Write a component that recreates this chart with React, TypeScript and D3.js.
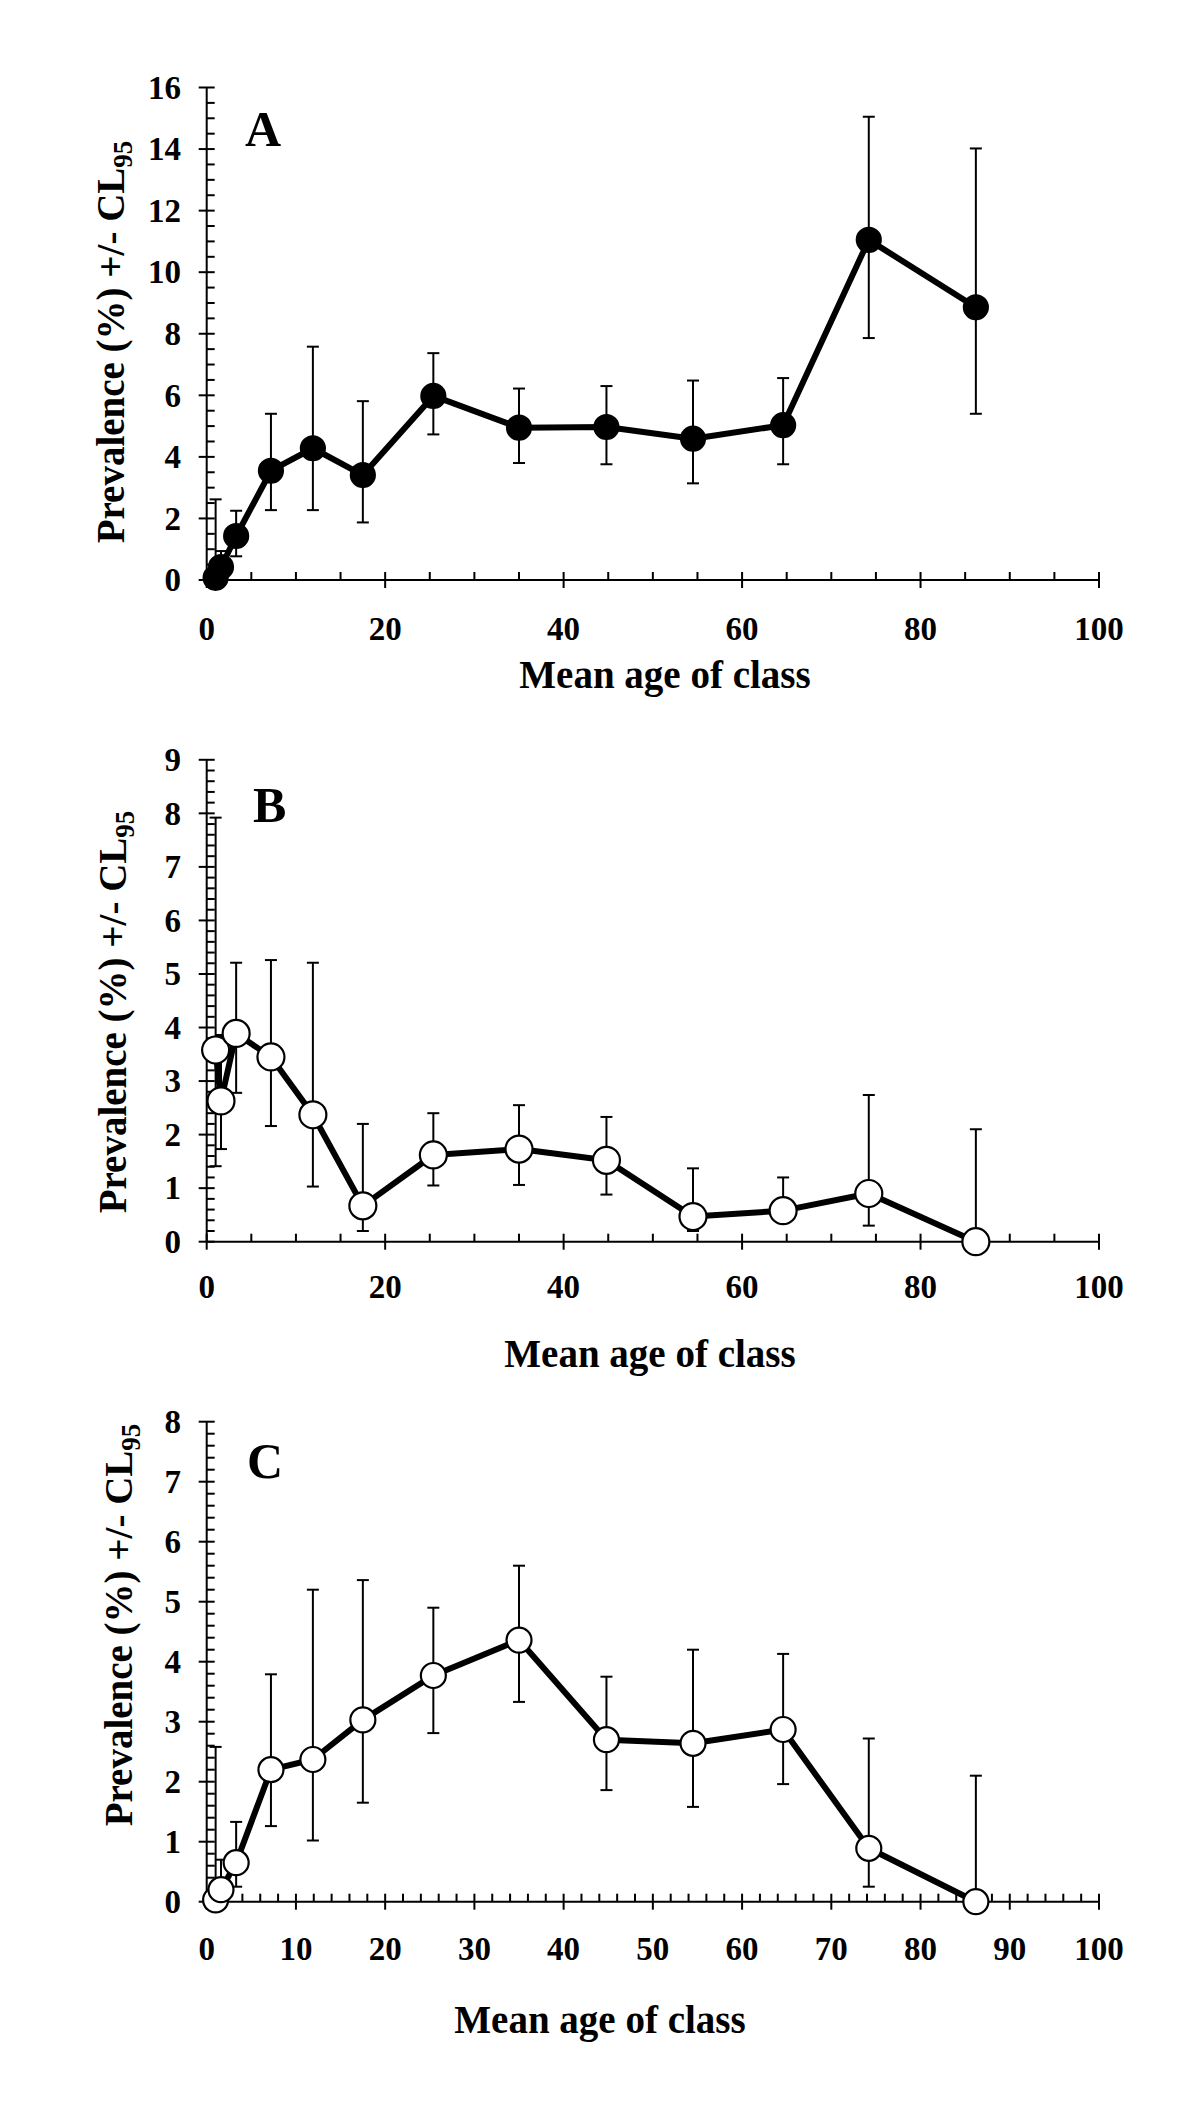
import React, { useEffect, useRef } from "react";
import * as d3 from "d3";

// mean age of each class (same classes in all three panels)
const ages = [1.0, 1.6, 3.3, 7.2, 11.9, 17.5, 25.4, 35.0, 44.8, 54.5, 64.6, 74.2, 86.2];

// panel A
const prevA = [0.07, 0.42, 1.43, 3.55, 4.28, 3.41, 5.98, 4.95, 4.97, 4.59, 5.03, 11.05, 8.86];
const upperA = [2.62, 0.94, 2.25, 5.4, 7.58, 5.81, 7.37, 6.22, 6.3, 6.48, 6.56, 15.05, 14.02];
const lowerA = [0, 0, 0.77, 2.27, 2.27, 1.87, 4.73, 3.8, 3.76, 3.14, 3.76, 7.86, 5.4];

// panel B
const prevB = [3.58, 2.63, 3.89, 3.45, 2.37, 0.67, 1.62, 1.73, 1.52, 0.47, 0.58, 0.9, 0];
const upperB = [7.92, 3.86, 5.21, 5.26, 5.21, 2.2, 2.4, 2.55, 2.33, 1.37, 1.2, 2.74, 2.1];
const lowerB = [1.41, 1.73, 2.78, 2.16, 1.03, 0.2, 1.05, 1.06, 0.88, 0.2, 0.35, 0.3, 0];

// panel C
const prevC = [0.03, 0.2, 0.65, 2.2, 2.37, 3.03, 3.77, 4.36, 2.7, 2.64, 2.87, 0.89, 0];
const upperC = [2.58, 0.7, 1.33, 3.79, 5.2, 5.36, 4.9, 5.6, 3.75, 4.2, 4.13, 2.72, 2.1];
const lowerC = [0, 0, 0.25, 1.26, 1.02, 1.65, 2.81, 3.33, 1.86, 1.58, 1.96, 0.25, 0];

const xTitle = "Mean age of class";
const yTitle = "Prevalence (%) +/- CL";
const yTitleSub = "95";

const FONT = '"Liberation Serif", "Times New Roman", serif';

interface PanelSpec {
  letter: string;
  prev: number[];
  upper: number[];
  lower: number[];
  filled: boolean;
  yMax: number;
  yMajor: number;
  yMinor: number;
  xMajor: number;
  xMinor: number;
  top: number;
  bottom: number;
  letterX: number;
  letterY: number;
  labelY: number;
  titleX: number;
  titleY: number;
  yTitleX: number;
  yTitleY: number;
  r: number;
}

const panels: PanelSpec[] = [
  {
    letter: "A", prev: prevA, upper: upperA, lower: lowerA, filled: true,
    yMax: 16, yMajor: 2, yMinor: 0.5, xMajor: 20, xMinor: 5,
    top: 87.5, bottom: 580, letterX: 245, letterY: 146,
    labelY: 640, titleX: 665, titleY: 688, yTitleX: 124, yTitleY: 342, r: 12,
  },
  {
    letter: "B", prev: prevB, upper: upperB, lower: lowerB, filled: false,
    yMax: 9, yMajor: 1, yMinor: 0.2, xMajor: 20, xMinor: 5,
    top: 759.8, bottom: 1241.7, letterX: 253, letterY: 822,
    labelY: 1298, titleX: 650, titleY: 1367, yTitleX: 126, yTitleY: 1012, r: 13.5,
  },
  {
    letter: "C", prev: prevC, upper: upperC, lower: lowerC, filled: false,
    yMax: 8, yMajor: 1, yMinor: 0.2, xMajor: 10, xMinor: 2,
    top: 1421.7, bottom: 1901.7, letterX: 247, letterY: 1478,
    labelY: 1960, titleX: 600, titleY: 2033, yTitleX: 132, yTitleY: 1625, r: 12.5,
  },
];

const steps = (max: number, step: number) =>
  d3.range(0, Math.round(max / step) + 1).map((i) => +(i * step).toFixed(6));
const isMultiple = (v: number, step: number) =>
  Math.abs(v / step - Math.round(v / step)) < 1e-6;

function drawPanel(g: d3.Selection<SVGGElement, unknown, null, undefined>, p: PanelSpec) {
  const x = d3.scaleLinear().domain([0, 100]).range([206.7, 1099]);
  const y = d3.scaleLinear().domain([0, p.yMax]).range([p.bottom, p.top]);
  const tick = 8;

  // axis lines
  g.append("line")
    .attr("x1", x(0)).attr("x2", x(0)).attr("y1", y(0)).attr("y2", y(p.yMax))
    .attr("stroke", "#000").attr("stroke-width", 2);
  g.append("line")
    .attr("x1", x(0)).attr("x2", x(100)).attr("y1", y(0)).attr("y2", y(0))
    .attr("stroke", "#000").attr("stroke-width", 2);

  // y ticks
  steps(p.yMax, p.yMinor).forEach((v) => {
    const major = isMultiple(v, p.yMajor);
    g.append("line")
      .attr("x1", major ? x(0) - tick : x(0)).attr("x2", x(0) + tick)
      .attr("y1", y(v)).attr("y2", y(v))
      .attr("stroke", "#000").attr("stroke-width", 2);
    if (major) {
      g.append("text")
        .attr("x", 181).attr("y", y(v)).attr("dy", "0.34em")
        .attr("text-anchor", "end")
        .attr("font-family", FONT).attr("font-weight", "bold").attr("font-size", 33)
        .text(v);
    }
  });

  // x ticks
  steps(100, p.xMinor).forEach((v) => {
    const major = isMultiple(v, p.xMajor);
    g.append("line")
      .attr("x1", x(v)).attr("x2", x(v))
      .attr("y1", y(0) - tick).attr("y2", major ? y(0) + tick : y(0))
      .attr("stroke", "#000").attr("stroke-width", 2);
    if (major) {
      g.append("text")
        .attr("x", x(v)).attr("y", p.labelY)
        .attr("text-anchor", "middle")
        .attr("font-family", FONT).attr("font-weight", "bold").attr("font-size", 33)
        .text(v);
    }
  });

  // error bars
  const cap = 6;
  ages.forEach((a, i) => {
    const bar = g.append("g").attr("stroke", "#000").attr("stroke-width", 2);
    bar.append("line")
      .attr("x1", x(a)).attr("x2", x(a)).attr("y1", y(p.lower[i])).attr("y2", y(p.upper[i]));
    bar.append("line")
      .attr("x1", x(a) - cap).attr("x2", x(a) + cap).attr("y1", y(p.upper[i])).attr("y2", y(p.upper[i]));
    if (p.lower[i] > 0) {
      bar.append("line")
        .attr("x1", x(a) - cap).attr("x2", x(a) + cap).attr("y1", y(p.lower[i])).attr("y2", y(p.lower[i]));
    }
  });

  // connecting line
  const line = d3.line<number>().x((_, i) => x(ages[i])).y((d) => y(d));
  g.append("path")
    .datum(p.prev)
    .attr("fill", "none").attr("stroke", "#000").attr("stroke-width", 6)
    .attr("stroke-linejoin", "round")
    .attr("d", line);

  // markers
  g.selectAll("circle.pt")
    .data(p.prev)
    .join("circle")
    .attr("class", "pt")
    .attr("cx", (_, i) => x(ages[i]))
    .attr("cy", (d) => y(d))
    .attr("r", p.r)
    .attr("fill", p.filled ? "#000" : "#fff")
    .attr("stroke", "#000").attr("stroke-width", 2.2);

  // panel letter
  g.append("text")
    .attr("x", p.letterX).attr("y", p.letterY)
    .attr("font-family", FONT).attr("font-weight", "bold").attr("font-size", 50)
    .text(p.letter);

  // x title
  g.append("text")
    .attr("x", p.titleX).attr("y", p.titleY)
    .attr("text-anchor", "middle")
    .attr("font-family", FONT).attr("font-weight", "bold").attr("font-size", 39)
    .text(xTitle);

  // y title
  const yt = g.append("text")
    .attr("transform", `translate(${p.yTitleX},${p.yTitleY}) rotate(-90)`)
    .attr("text-anchor", "middle")
    .attr("font-family", FONT).attr("font-weight", "bold").attr("font-size", 39);
  yt.append("tspan").text(yTitle);
  yt.append("tspan").attr("font-size", 27).attr("dy", 8).text(yTitleSub);
}

const App: React.FC = () => {
  const svgRef = useRef<SVGSVGElement | null>(null);

  useEffect(() => {
    if (!svgRef.current) return;
    const svg = d3.select(svgRef.current);
    svg.selectAll("*").remove();
    svg.append("rect").attr("width", 1200).attr("height", 2128).attr("fill", "#fff");
    panels.forEach((p) => drawPanel(svg.append("g"), p));
  }, []);

  return (
    <svg
      ref={svgRef}
      width={1200}
      height={2128}
      style={{ position: "absolute", left: 0, top: 0, display: "block" }}
    ></svg>
  );
};

export default App;
